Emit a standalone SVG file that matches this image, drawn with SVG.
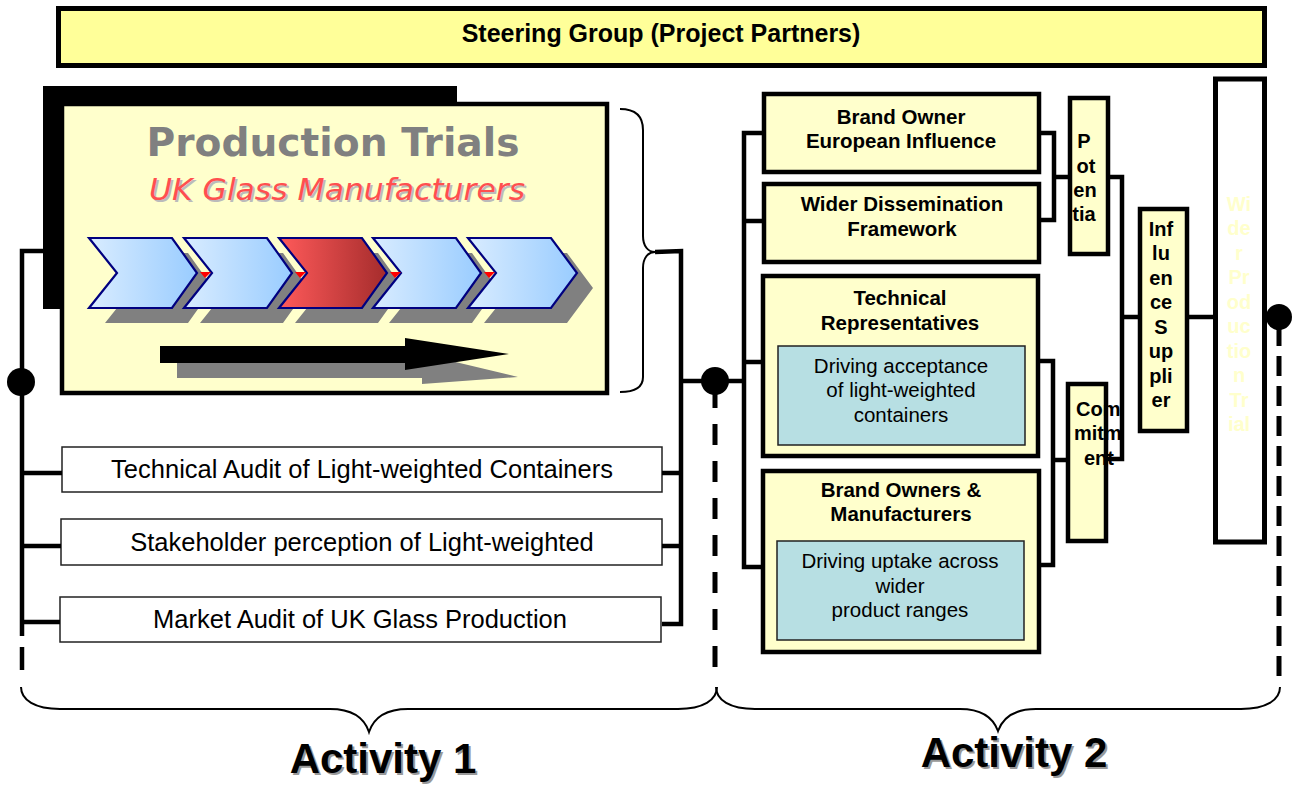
<svg xmlns="http://www.w3.org/2000/svg" width="1296" height="785" viewBox="0 0 1296 785">
<defs>
<linearGradient id="gBlue" x1="0" y1="0" x2="1" y2="0">
<stop offset="0" stop-color="#D9ECFF"/><stop offset="1" stop-color="#99CCFF"/>
</linearGradient>
<linearGradient id="gRed" x1="0" y1="0" x2="1" y2="0">
<stop offset="0" stop-color="#FF5A5A"/><stop offset="1" stop-color="#A52C2C"/>
</linearGradient>
<clipPath id="clipCom"><rect x="1060" y="380" width="61" height="170"/></clipPath>
<style>
.box{fill:#FFFFCC;stroke:#000;stroke-width:4.5}
.inner{fill:#B7DFE3;stroke:#222;stroke-width:1.5}
.wbox{fill:#fff;stroke:#222;stroke-width:1.5}
.ln{fill:none;stroke:#000;stroke-width:4.5;stroke-linejoin:miter}
.br{fill:none;stroke:#000;stroke-width:2}
.t{font-family:"Liberation Sans",Arial,sans-serif;fill:#000}
.b{font-weight:bold}
.chev{stroke:#000080;stroke-width:2.2}
.sh{fill:#808080}
</style>
</defs>

<g id="steering">
<rect x="58.5" y="8.5" width="1206" height="57" fill="#FFFF99" stroke="#000" stroke-width="5"/>
<text class="t b" x="661" y="42" font-size="25" text-anchor="middle">Steering Group (Project Partners)</text>
</g>

<g id="production-trials">
<rect x="43" y="86" width="414" height="223" fill="#000"/>
<rect x="62" y="104" width="545" height="289" fill="#FFFFCC" stroke="#000" stroke-width="4.5"/>
<text x="333" y="156" font-family="'DejaVu Sans',Verdana,sans-serif" font-weight="bold" font-size="39" fill="#808080" text-anchor="middle" textLength="373" lengthAdjust="spacingAndGlyphs">Production Trials</text>
<text x="339" y="202" font-family="'DejaVu Sans',Verdana,sans-serif" font-style="italic" font-size="31" fill="#BBBBBB" text-anchor="middle" textLength="376" lengthAdjust="spacingAndGlyphs">UK Glass Manufacturers</text>
<text x="337" y="200" font-family="'DejaVu Sans',Verdana,sans-serif" font-style="italic" font-size="31" fill="#FF4F4F" text-anchor="middle" textLength="376" lengthAdjust="spacingAndGlyphs">UK Glass Manufacturers</text>
<g class="sh">
<polygon points="105,253 188,253 213,288 188,323 105,323 133,288"/>
<polygon points="200,253 283,253 308,288 283,323 200,323 228,288"/>
<polygon points="295,253 378,253 403,288 378,323 295,323 323,288"/>
<polygon points="389,253 472,253 497,288 472,323 389,323 417,288"/>
<polygon points="484,253 567,253 593,288 567,323 484,323 512,288"/>
</g>
<polygon class="chev" fill="url(#gBlue)" points="89,238 172,238 197,273 172,308 89,308 117,273"/>
<polygon class="chev" fill="url(#gBlue)" points="184,238 267,238 292,273 267,308 184,308 212,273"/>
<polygon class="chev" fill="url(#gRed)" points="279,238 362,238 387,273 362,308 279,308 307,273"/>
<polygon class="chev" fill="url(#gBlue)" points="373,238 456,238 481,273 456,308 373,308 401,273"/>
<polygon class="chev" fill="url(#gBlue)" points="468,238 551,238 577,273 551,308 468,308 496,273"/>
<g fill="#FF0000">
<polygon points="200,272 211,272 205,278"/>
<polygon points="295,272 306,272 300,278"/>
<polygon points="390,272 401,272 395,278"/>
<polygon points="484,272 495,272 489,278"/>
</g>
<polygon class="sh" points="177,363 422,363 422,354 518,377 422,384 422,378 177,378"/>
<polygon fill="#000" points="160,346 405,346 405,338 509,354 405,370 405,363 160,363"/>
</g>

<g id="audit-technical">
<rect class="wbox" x="62" y="447" width="600" height="45"/>
<text class="t" x="362" y="478" font-size="25.5" text-anchor="middle">Technical Audit of Light-weighted Containers</text>
</g>
<g id="audit-stakeholder">
<rect class="wbox" x="61" y="519" width="601" height="46"/>
<text class="t" x="362" y="551" font-size="25.5" text-anchor="middle">Stakeholder perception of Light-weighted</text>
</g>
<g id="audit-market">
<rect class="wbox" x="60" y="597" width="601" height="45"/>
<text class="t" x="360" y="628" font-size="25.5" text-anchor="middle">Market Audit of UK Glass Production</text>
</g>

<g id="brand-owner">
<rect class="box" x="764" y="94" width="275" height="78"/>
<text class="t b" x="901" y="124" font-size="20.5" text-anchor="middle">Brand Owner</text>
<text class="t b" x="901" y="148" font-size="20.5" text-anchor="middle">European Influence</text>
</g>
<g id="wider-dissemination">
<rect class="box" x="764" y="184" width="275" height="78"/>
<text class="t b" x="902" y="211" font-size="20.5" text-anchor="middle">Wider Dissemination</text>
<text class="t b" x="902" y="236" font-size="20.5" text-anchor="middle">Framework</text>
</g>
<g id="technical-reps">
<rect class="box" x="763" y="276" width="275" height="180"/>
<text class="t b" x="900" y="305" font-size="20.5" text-anchor="middle">Technical</text>
<text class="t b" x="900" y="330" font-size="20.5" text-anchor="middle">Representatives</text>
<rect class="inner" x="778" y="346" width="247" height="99"/>
<text class="t" x="901" y="373" font-size="20.5" text-anchor="middle">Driving acceptance</text>
<text class="t" x="901" y="397" font-size="20.5" text-anchor="middle">of light-weighted</text>
<text class="t" x="901" y="422" font-size="20.5" text-anchor="middle">containers</text>
</g>
<g id="brand-owners-manufacturers">
<rect class="box" x="763" y="471" width="276" height="181"/>
<text class="t b" x="901" y="497" font-size="20.5" text-anchor="middle">Brand Owners &amp;</text>
<text class="t b" x="901" y="521" font-size="20.5" text-anchor="middle">Manufacturers</text>
<rect class="inner" x="777" y="541" width="247" height="99"/>
<text class="t" x="900" y="568" font-size="20.5" text-anchor="middle">Driving uptake across</text>
<text class="t" x="900" y="593" font-size="20.5" text-anchor="middle">wider</text>
<text class="t" x="900" y="617" font-size="20.5" text-anchor="middle">product ranges</text>
</g>

<g id="potentia">
<rect class="box" x="1070" y="98" width="38" height="156"/>
<g class="t b" font-size="20" text-anchor="middle">
<text x="1084" y="148">P</text>
<text x="1086" y="173">ot</text>
<text x="1085" y="197">en</text>
<text x="1084" y="221">tia</text>
</g>
</g>
<g id="commitment">
<rect class="box" x="1068" y="384" width="38" height="157"/>
<g class="t b" font-size="20" clip-path="url(#clipCom)">
<text x="1076" y="416">Com</text>
<text x="1074" y="440">mitm</text>
<text x="1084" y="465">ent</text>
</g>
</g>
<g id="influence-supplier">
<rect class="box" x="1140" y="209" width="47" height="222"/>
<g class="t b" font-size="20" text-anchor="middle">
<text x="1161" y="236">Inf</text>
<text x="1161" y="260">lu</text>
<text x="1161" y="285">en</text>
<text x="1161" y="309">ce</text>
<text x="1161" y="334">S</text>
<text x="1161" y="358">up</text>
<text x="1161" y="383">pli</text>
<text x="1161" y="407">er</text>
</g>
</g>
<g id="wider-production-trial">
<rect x="1215.5" y="79" width="49" height="463" fill="#fff" stroke="#000" stroke-width="5"/>
<g class="t b" font-size="20" text-anchor="middle" style="fill:#FFFFCC">
<text x="1239" y="211">Wi</text>
<text x="1239" y="235">de</text>
<text x="1239" y="260">r</text>
<text x="1239" y="284">Pr</text>
<text x="1239" y="309">od</text>
<text x="1239" y="333">uc</text>
<text x="1239" y="358">tio</text>
<text x="1239" y="382">n</text>
<text x="1239" y="407">Tr</text>
<text x="1239" y="431">ial</text>
</g>
</g>

<g id="connectors">
<polyline class="ln" points="43,251 22,251 22,636"/>
<line class="ln" x1="22" y1="473" x2="62" y2="473"/>
<line class="ln" x1="22" y1="546" x2="61" y2="546"/>
<line class="ln" x1="22" y1="622" x2="60" y2="622"/>
<line class="ln" x1="22" y1="647" x2="22" y2="670"/>
<circle cx="21" cy="382" r="14" fill="#000"/>
<path class="br" d="M620,109 C636,109 643,116 643,130 L643,236 C643,246 648,252 655,252 C648,252 643,258 643,268 L643,377 C643,386 636,392 620,392"/>
<polyline class="ln" points="655,252 681,251 681,624 662,624"/>
<line class="ln" x1="662" y1="473" x2="681" y2="473"/>
<line class="ln" x1="662" y1="546" x2="681" y2="546"/>
<line class="ln" x1="681" y1="381" x2="744" y2="381"/>
<circle cx="715" cy="381" r="14" fill="#000"/>
<line x1="715" y1="387" x2="715" y2="667" stroke="#000" stroke-width="5" stroke-dasharray="21 16"/>
<polyline class="ln" points="764,133 744,133 744,567 763,567"/>
<line class="ln" x1="744" y1="221" x2="764" y2="221"/>
<line class="ln" x1="744" y1="362" x2="763" y2="362"/>
<polyline class="ln" points="1039,133 1054,133 1054,220 1039,220"/>
<line class="ln" x1="1054" y1="177" x2="1070" y2="177"/>
<polyline class="ln" points="1038,361 1053,361 1053,565 1039,565"/>
<line class="ln" x1="1053" y1="460" x2="1068" y2="460"/>
<polyline class="ln" points="1108,177 1122,177 1122,459 1106,459"/>
<line class="ln" x1="1122" y1="317" x2="1140" y2="317"/>
<line class="ln" x1="1187" y1="317" x2="1215" y2="317"/>
<circle cx="1279" cy="317" r="13" fill="#000"/>
<line x1="1279" y1="326" x2="1279" y2="676" stroke="#000" stroke-width="5" stroke-dasharray="20 10"/>
<path class="br" d="M21,687 C21,700 35,709 60,709 L330,709 C355,709 365,720 369,732 C373,720 383,709 408,709 L678,709 C703,709 717,700 717,687"/>
<path class="br" d="M716,687 C716,700 730,709 755,709 L960,709 C985,709 994,720 998,731 C1002,720 1011,709 1036,709 L1241,709 C1266,709 1280,700 1280,687"/>
</g>

<g id="activity-labels">
<text class="t b" x="385" y="775" font-size="42" text-anchor="middle" style="fill:#999">Activity 1</text>
<text class="t b" x="383" y="773" font-size="42" text-anchor="middle">Activity 1</text>
<text class="t b" x="1016" y="769" font-size="42" text-anchor="middle" style="fill:#999">Activity 2</text>
<text class="t b" x="1014" y="767" font-size="42" text-anchor="middle">Activity 2</text>
</g>
</svg>
